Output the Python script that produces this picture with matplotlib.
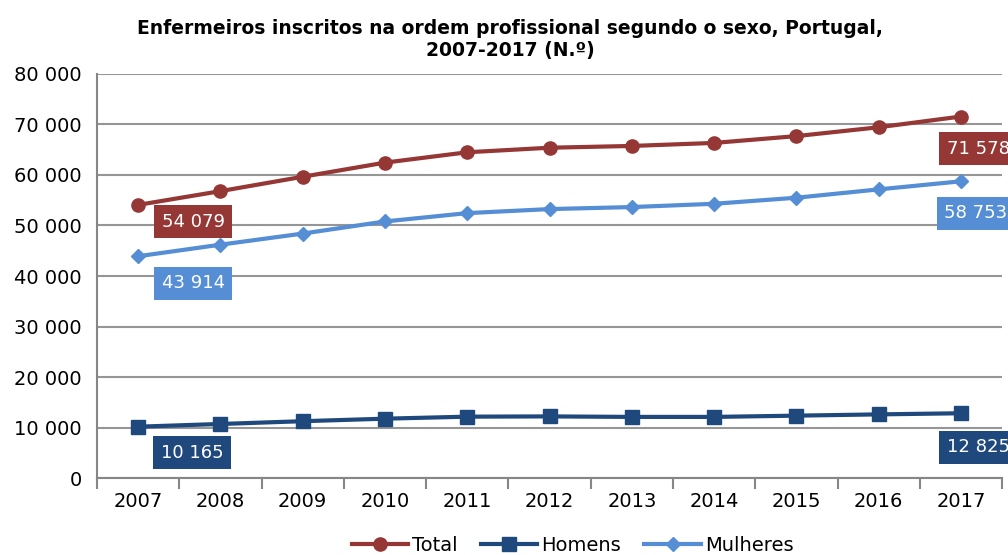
import numpy as np
import matplotlib
matplotlib.use("Agg")
import matplotlib.pyplot as plt

years = ["2007", "2008", "2009", "2010", "2011", "2012", "2013", "2014", "2015", "2016", "2017"]
total = [54079, 56800, 59650, 62450, 64500, 65400, 65750, 66350, 67700, 69450, 71578]
homens = [10165, 10700, 11250, 11750, 12150, 12200, 12100, 12100, 12350, 12600, 12825]
mulheres = [43914, 46200, 48400, 50800, 52450, 53250, 53650, 54300, 55500, 57150, 58753]

c_total = "#953735"
c_homens = "#1F497D"
c_mulheres = "#558ED5"

plt.rcParams['font.family'] = ['DejaVu Sans']

fig = plt.figure(figsize=(10.08, 5.55), dpi=100)
ax = fig.add_axes([0.0962, 0.1387, 0.898, 0.728])

x = np.arange(len(years))
ax.plot(x, total, color=c_total, lw=3, marker='o', ms=9.5, label="Total", zorder=3)
ax.plot(x, homens, color=c_homens, lw=3, marker='s', ms=9.5, label="Homens", zorder=3)
ax.plot(x, mulheres, color=c_mulheres, lw=3, marker='D', ms=7.5, label="Mulheres", zorder=3)

ax.set_xlim(-0.5, 10.5)
ax.set_ylim(0, 80000)
yt = np.arange(0, 80001, 10000)
ax.set_yticks(yt)
ax.set_yticklabels([f"{v:,}".replace(",", " ") for v in yt], fontsize=14)
ax.set_xticks(x)
ax.set_xticklabels(years, fontsize=14)
ax.set_xticks(np.arange(-0.5, 11, 1), minor=True)
ax.tick_params(axis='x', which='major', length=0, pad=10)
ax.tick_params(axis='x', which='minor', length=8, width=1.5, color="#868686")
ax.tick_params(axis='y', length=0, pad=11)

ax.grid(axis='y', color="#969696", lw=1.5)
ax.set_axisbelow(True)
for s in ["top", "right"]:
    ax.spines[s].set_visible(False)
for s in ["left", "bottom"]:
    ax.spines[s].set_color("#868686")
    ax.spines[s].set_linewidth(1.5)


def label(i, vals, color, dx, dy):
    ax.annotate(f"{vals[i]:,}".replace(",", " "), xy=(i, vals[i]), xytext=(dx, dy),
                textcoords='offset pixels', ha='center', va='center', fontsize=13,
                color='white', annotation_clip=False, zorder=5,
                bbox=dict(boxstyle='square,pad=0.42', fc=color, ec='none'))


label(0, total, c_total, 55, -17)
label(0, mulheres, c_mulheres, 55, -27)
label(0, homens, c_homens, 54, -26)
label(10, total, c_total, 17, -32)
label(10, mulheres, c_mulheres, 15, -32)
label(10, homens, c_homens, 17, -34)

fig.text(0.506, 0.928, "Enfermeiros inscritos na ordem profissional segundo o sexo, Portugal,\n2007-2017 (N.º)",
         ha='center', va='center', fontsize=13.5, fontweight='bold', linespacing=1.2)

fig.legend(loc='center', bbox_to_anchor=(0.568, 0.018), ncol=3, frameon=False, fontsize=14,
           handlelength=2.9, handletextpad=0.2, columnspacing=1.2)

fig.savefig("out.png", dpi=100)
